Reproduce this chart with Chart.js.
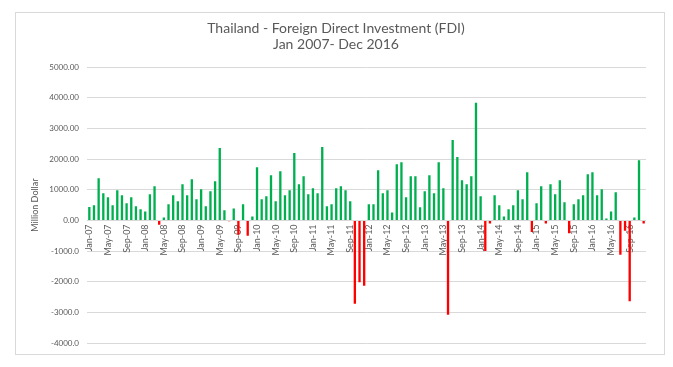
<!DOCTYPE html>
<html>
<head>
<meta charset="utf-8">
<script src="https://cdn.jsdelivr.net/npm/chart.js@4"></script>
<style>
  html, body { margin: 0; padding: 0; background: #fff; }
  #wrap { position: relative; width: 673px; height: 367px; }
  #frame { position: absolute; left: 15px; top: 12px; width: 650px; height: 343px;
           border: 1px solid #d9d9d9; box-sizing: border-box; pointer-events: none; }
</style>
</head>
<body>
<div id="wrap">
  <canvas id="fdi" width="673" height="367"></canvas>
  <div id="frame"></div>
</div>
<script>
// categories
const months = ['Jan', 'Feb', 'Mar', 'Apr', 'May', 'Jun', 'Jul', 'Aug', 'Sep', 'Oct', 'Nov', 'Dec'];
const years = ['07', '08', '09', '10', '11', '12', '13', '14', '15', '16'];

// monthly FDI, million dollar
const fdi2007 = [437, 492, 1377, 885, 754, 492, 984, 820, 557, 754, 459, 361];
const fdi2008 = [295, 852, 1115, -140, 98, 525, 820, 623, 1180, 820, 1344, 689];
const fdi2009 = [1016, 459, 951, 1279, 2361, 328, -30, 393, -470, 525, -500, 131];
const fdi2010 = [1738, 689, 787, 1475, 623, 1607, 820, 984, 2197, 1180, 1443, 852];
const fdi2011 = [1049, 885, 2393, 459, 525, 1049, 1115, 984, 623, -2720, -2020, -2130];
const fdi2012 = [525, 525, 1639, 885, 984, 262, 1836, 1902, 754, 1443, 1443, 426];
const fdi2013 = [951, 1475, 885, 1902, 1049, -3080, 2623, 2066, 1311, 1180, 1443, 3836];
const fdi2014 = [787, -1000, -100, 820, 492, 131, 361, 492, 984, 689, 1574, -380];
const fdi2015 = [557, 1115, -100, 1180, 852, 1311, 590, -420, 525, 689, 820, 1508];
const fdi2016 = [1574, 820, 1016, 66, 295, 918, -1120, -340, -2640, 98, 1967, -100];

// y axis ticks
const yTickValues = [5000, 4000, 3000, 2000, 1000, 0, -1000, -2000, -3000, -4000];
const yTickLabels = ['5000.00', '4000.00', '3000.00', '2000.00', '1000.00', '0.00',
                     '-1000.0', '-2000.0', '-3000.0', '-4000.0'];

const labels = years.flatMap(y => months.map(m => m + '-' + y));
const fdi = [].concat(fdi2007, fdi2008, fdi2009, fdi2010, fdi2011,
                      fdi2012, fdi2013, fdi2014, fdi2015, fdi2016);

const ctx = document.getElementById('fdi').getContext('2d');
new Chart(ctx, {
  type: 'bar',
  data: {
    labels,
    datasets: [{
      data: fdi,
      backgroundColor: fdi.map(v => v < 0 ? '#FF0000' : '#00B050'),
      barPercentage: 0.5,
      categoryPercentage: 1.0
    }]
  },
  options: {
    responsive: false,
    animation: false,
    layout: { padding: { left: 26, right: 27, top: 0, bottom: 24 } },
    plugins: {
      legend: { display: false },
      tooltip: { enabled: false },
      title: {
        display: true,
        text: ['Thailand - Foreign Direct Investment (FDI)', 'Jan 2007- Dec 2016'],
        color: '#595959',
        font: { family: 'Lato', size: 14, weight: 'normal', lineHeight: 1.15 },
        padding: { top: 20, bottom: 15 }
      }
    },
    scales: {
      x: {
        position: { y: 0 },
        grid: { display: false, drawTicks: false },
        border: { display: false },
        ticks: {
          autoSkip: false,
          minRotation: 90,
          maxRotation: 90,
          padding: 4,
          color: '#595959',
          font: { family: 'Lato', size: 9 },
          callback: (v, i) => i % 4 === 0 ? labels[i] : ''
        }
      },
      y: {
        min: -4000,
        max: 5000,
        afterFit: s => { s.width = 61; },
        afterBuildTicks: s => { s.ticks = yTickValues.map(v => ({ value: v })); },
        grid: { color: '#d9d9d9', drawTicks: false },
        border: { display: false },
        ticks: {
          padding: 8,
          color: '#595959',
          font: { family: 'Lato', size: 8 },
          callback: v => yTickLabels[yTickValues.indexOf(v)]
        },
        title: {
          display: true,
          text: 'Million Dollar',
          color: '#595959',
          font: { family: 'Lato', size: 9 },
          padding: { top: 4, bottom: 0 }
        }
      }
    }
  }
});
</script>
</body>
</html>
